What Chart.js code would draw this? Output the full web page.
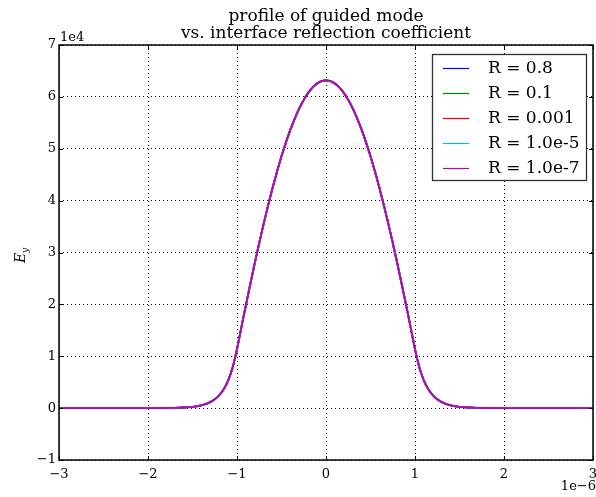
<!DOCTYPE html>
<html>
<head>
<meta charset="utf-8">
<script src="https://cdn.jsdelivr.net/npm/chart.js@4.4.0/dist/chart.umd.min.js"></script>
<style>
html,body{margin:0;padding:0;background:#fff;}
#wrap{width:596px;height:497px;position:relative;}
</style>
</head>
<body>
<div id="wrap"><canvas id="c" width="596" height="497"></canvas></div>
<script>
// ---- data (x in units of 1e-6, Ey raw) ----
const titleLines = ["profile of guided mode", "vs. interface reflection coefficient"];
const seriesLabels = ["R = 0.8", "R = 0.1", "R = 0.001", "R = 1.0e-5", "R = 1.0e-7"];
const xValues = [-3, -2.5, -2, -1.8, -1.7, -1.6, -1.5, -1.4, -1.3, -1.25, -1.2, -1.15, -1.1, -1.05,
  -1, -0.95, -0.9, -0.85, -0.8, -0.75, -0.7, -0.65, -0.6, -0.55, -0.5, -0.45, -0.4, -0.35, -0.3, -0.25, -0.2, -0.15, -0.1, -0.05,
  0, 0.05, 0.1, 0.15, 0.2, 0.25, 0.3, 0.35, 0.4, 0.45, 0.5, 0.55, 0.6, 0.65, 0.7, 0.75, 0.8, 0.85, 0.9, 0.95,
  1, 1.05, 1.1, 1.15, 1.2, 1.25, 1.3, 1.4, 1.5, 1.6, 1.7, 1.8, 2, 2.5, 3];
// all five curves coincide in the picture
const eyProfile = [0, 0, 6, 26, 56, 119, 254, 544, 1162, 1700, 2485, 3634, 5315, 7771,
  11364, 15654, 19868, 23987, 27989, 31857, 35570, 39112, 42465, 45613, 48541, 51234, 53680, 55867, 57784, 59423, 60774, 61831, 62591, 63048,
  63200, 63048, 62591, 61831, 60774, 59423, 57784, 55867, 53680, 51234, 48541, 45613, 42465, 39112, 35570, 31857, 27989, 23987, 19868, 15654,
  11364, 7771, 5315, 3634, 2485, 1700, 1162, 544, 254, 119, 56, 26, 6, 0, 0];
const seriesValues = [eyProfile, eyProfile, eyProfile, eyProfile, eyProfile];
const xTicks = [-3, -2, -1, 0, 1, 2, 3];
const yTicks = [-1, 0, 1, 2, 3, 4, 5, 6, 7];
const xOffsetLabel = "1e\u22126";
const yOffsetLabel = "1e4";

// ---- styles ----
const colors = ["#0000ff", "#008000", "#ff0000", "#00bfbf", "#bf00bf"];
const SERIF = "'DejaVu Serif', serif";
const minus = s => String(s).replace('-', '\u2212');

const datasets = seriesLabels.map((lab, i) => ({
  label: lab,
  data: xValues.map((x, j) => ({x: x, y: seriesValues[i][j]})),
  borderColor: colors[i],
  backgroundColor: colors[i],
  borderWidth: 1.8,
  pointRadius: 0,
  cubicInterpolationMode: 'monotone',
  order: seriesLabels.length - 1 - i,
  fill: false
}));

const decor = {
  id: 'decor',
  beforeDraw(chart) {
    const ctx = chart.ctx;
    ctx.save();
    ctx.fillStyle = '#fff';
    ctx.fillRect(0, 0, chart.width, chart.height);
    ctx.restore();
  },
  afterDatasetsDraw(chart) {
    const ctx = chart.ctx;
    const a = chart.chartArea;
    const xs = chart.scales.x, ys = chart.scales.y;
    ctx.save();
    // frame
    ctx.strokeStyle = '#000';
    ctx.lineWidth = 1.5;
    ctx.strokeRect(a.left, a.top, a.right - a.left, a.bottom - a.top);
    // inward ticks
    ctx.lineWidth = 1;
    ctx.beginPath();
    xTicks.forEach(v => {
      const px = Math.round(xs.getPixelForValue(v)) + 0.5;
      ctx.moveTo(px, a.bottom); ctx.lineTo(px, a.bottom - 4);
      ctx.moveTo(px, a.top); ctx.lineTo(px, a.top + 4);
    });
    yTicks.forEach(v => {
      const py = Math.round(ys.getPixelForValue(v * 1e4)) + 0.5;
      ctx.moveTo(a.left, py); ctx.lineTo(a.left + 4, py);
      ctx.moveTo(a.right, py); ctx.lineTo(a.right - 4, py);
    });
    ctx.stroke();

    // title
    ctx.fillStyle = '#000';
    ctx.font = "17px " + SERIF;
    ctx.textAlign = 'center';
    ctx.textBaseline = 'alphabetic';
    const cx = (a.left + a.right) / 2;
    ctx.fillText(titleLines[0], cx, 20.5);
    ctx.fillText(titleLines[1], cx, 37.5);

    // offset labels
    ctx.font = "13px " + SERIF;
    ctx.textAlign = 'left';
    ctx.fillText(yOffsetLabel, a.left + 1, a.top - 4);
    ctx.textAlign = 'right';
    ctx.fillText(xOffsetLabel, chart.width, 490);

    // y label E_y
    ctx.save();
    ctx.translate(25, 255);
    ctx.rotate(-Math.PI / 2);
    ctx.textAlign = 'left';
    ctx.font = "italic 14px " + SERIF;
    const wE = ctx.measureText("E").width;
    ctx.fillText("E", -wE / 2 - 3, 0);
    ctx.font = "italic 9px " + SERIF;
    ctx.fillText("y", wE / 2 - 3, 3);
    ctx.restore();

    // legend
    const lx = 432, ly = 54, lw = 154, lh = 126;
    ctx.fillStyle = '#fff';
    ctx.fillRect(lx, ly, lw, lh);
    ctx.strokeStyle = '#333';
    ctx.lineWidth = 1.3;
    ctx.strokeRect(lx + 0.5, ly + 0.5, lw, lh);
    ctx.font = "17px " + SERIF;
    ctx.textAlign = 'left';
    ctx.textBaseline = 'middle';
    seriesLabels.forEach((lab, i) => {
      const yy = ly + 14 + i * 25;
      ctx.strokeStyle = colors[i];
      ctx.lineWidth = 1.2;
      ctx.beginPath();
      ctx.moveTo(443, yy + 0.5); ctx.lineTo(469, yy + 0.5);
      ctx.stroke();
      ctx.fillStyle = '#000';
      ctx.fillText(lab, 488, yy + 1);
    });
    ctx.restore();
  }
};

new Chart(document.getElementById('c'), {
  type: 'line',
  data: { datasets: datasets },
  options: {
    responsive: false,
    animation: false,
    devicePixelRatio: 1,
    layout: { padding: { top: 45, right: 3, left: 0, bottom: 0 } },
    plugins: { legend: { display: false }, title: { display: false }, tooltip: { enabled: false } },
    scales: {
      x: {
        type: 'linear', min: -3, max: 3,
        afterBuildTicks: s => { s.ticks = xTicks.map(v => ({value: v})); },
        afterFit: s => { s.height = 37; s.paddingLeft = 0; s.paddingRight = 0; },
        border: { display: false, dash: [1, 3] },
        grid: { color: '#000', lineWidth: 1, drawTicks: false },
        ticks: { font: { family: SERIF, size: 13 }, color: '#000', padding: 7, maxRotation: 0,
                 callback: v => minus(v) }
      },
      y: {
        type: 'linear', min: -1e4, max: 7e4,
        afterBuildTicks: s => { s.ticks = yTicks.map(v => ({value: v * 1e4})); },
        afterFit: s => { s.width = 59; s.paddingTop = 0; s.paddingBottom = 0; },
        border: { display: false, dash: [1, 3] },
        grid: { color: '#000', lineWidth: 1, drawTicks: false },
        ticks: { font: { family: SERIF, size: 13 }, color: '#000', padding: 3,
                 callback: v => minus(Math.round(v / 1e4)) }
      }
    }
  },
  plugins: [decor]
});
</script>
</body>
</html>
